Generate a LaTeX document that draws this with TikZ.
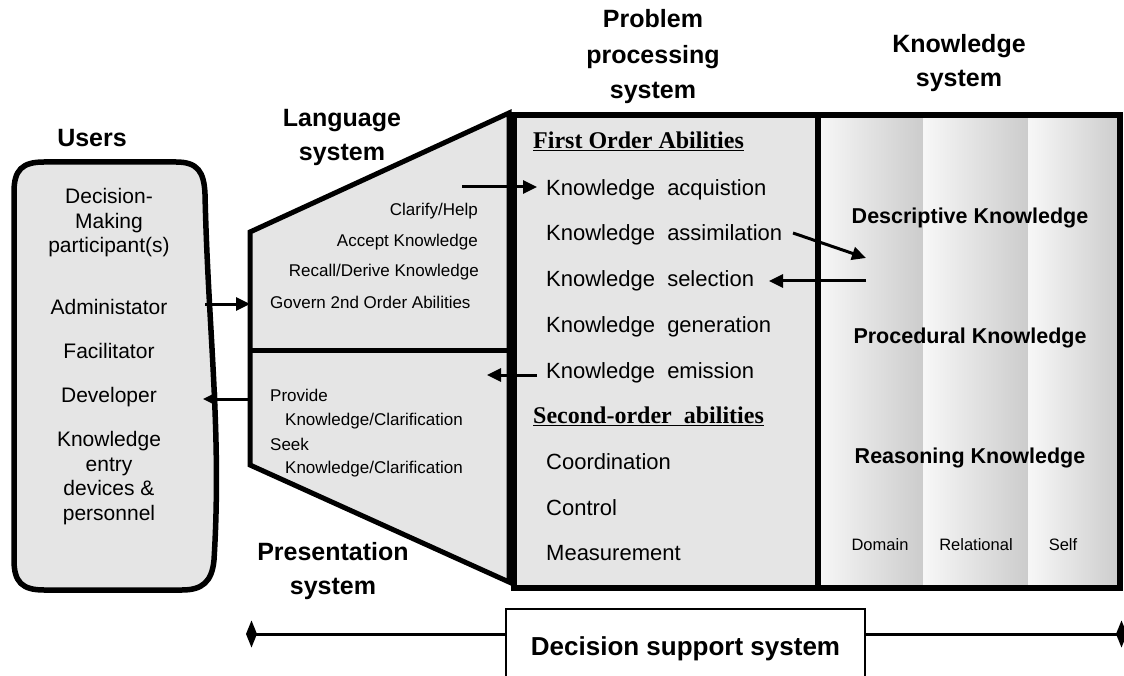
\documentclass[tikz,border=0pt]{standalone}
\usepackage{fontspec}
\setmainfont{Liberation Sans}
\newfontfamily\headserif{Liberation Serif}
\usetikzlibrary{arrows.meta}

\tikzset{
	syslabel/.style={font=\fontsize{25}{34}\selectfont\bfseries, align=center},
	useritem/.style={font=\fontsize{21}{24.5}\selectfont, align=center, inner sep=0pt},
	langitem/.style={font=\fontsize{17}{20}\selectfont, inner sep=0pt, text height=1.5ex, text depth=.3ex},
	ability/.style={font=\fontsize{22}{26}\selectfont, anchor=west, inner sep=0pt, text height=1.5ex, text depth=.3ex},
	abilityhead/.style={font=\headserif\fontsize{24}{28}\selectfont\bfseries, anchor=west, inner sep=0pt, text height=1.5ex, text depth=.3ex},
	kind/.style={font=\fontsize{21.5}{26}\selectfont\bfseries},
	bandname/.style={font=\fontsize{16.5}{20}\selectfont},
	band/.style={left color=gray!6, right color=gray!40},
	flow/.style={line width=3pt, -{Triangle[length=14pt,width=13pt]}},
}

\begin{document}
\begin{tikzpicture}[x=1pt, y=-1pt]
	\useasboundingbox (0,0) rectangle (1124,676);

	\filldraw [fill=gray!20, line width=5.5pt]
		(44,162) -- (176,162) .. controls (198,162) and (204,172) .. (205,194)
		.. controls (208,330) and (222,430) .. (214,560)
		.. controls (212,582) and (202,590) .. (182,590) -- (44,590)
		.. controls (22,590) and (14,582) .. (14,560) -- (14,192)
		.. controls (14,170) and (22,162) .. (44,162) -- cycle;
	\filldraw [fill=gray!20, line width=5pt, line join=miter]
		(250,232) -- (509,113) -- (509,582) -- (250,465) -- cycle;
	\draw [line width=5pt] (250,350) -- (509,350);

	\fill [gray!20] (514,115) rectangle (818,588);
	\shade [band] (818,115) rectangle (923,588);
	\shade [band] (923,115) rectangle (1028,588);
	\shade [band] (1028,115) rectangle (1120,588);
	\draw [line width=6pt] (514,115) rectangle (1120,588);
	\draw [line width=6pt] (818,115) -- (818,588);

	\node [syslabel] (users) at (92,138) {Users};
	\node [syslabel] (lang) at (342,137) {Language\\system};
	\node [syslabel] (pres) at (333,571) {Presentation\\system};
	\node [syslabel, font=\fontsize{25}{35.5}\selectfont\bfseries] (pps) at (653,57) {Problem\\processing\\system};
	\node [syslabel] (ks) at (959,63) {Knowledge\\system};

	\node [useritem] (dm) at (109,223) {Decision-\\Making\\participant(s)};
	\node [useritem] (admin) at (109,307) {Administator};
	\node [useritem] (facil) at (109,351) {Facilitator};
	\node [useritem] (dev) at (109,397) {Developer};
	\node [useritem] (entry) at (109,478) {Knowledge\\entry\\devices \&\\personnel};

	\node [langitem, anchor=east] (clarify) at (478,212) {Clarify/Help};
	\node [langitem, anchor=east] (accept) at (478,243) {Accept Knowledge};
	\node [langitem, anchor=east] (recall) at (479,273) {Recall/Derive Knowledge};
	\node [langitem, anchor=west] (govern) at (270,305) {Govern 2nd Order Abilities};
	\node [langitem, anchor=west] (provide) at (270,398) {Provide};
	\node [langitem, anchor=west] (provk) at (285,422) {Knowledge/Clarification};
	\node [langitem, anchor=west] (seek) at (270,447) {Seek};
	\node [langitem, anchor=west] (seekk) at (285,470) {Knowledge/Clarification};

	\node [abilityhead] (first) at (533,145) {\underline{First Order Abilities}};
	\node [ability] (acq) at (546,192) {Knowledge\ \ acquistion};
	\node [ability] (assim) at (546,237) {Knowledge\ \ assimilation};
	\node [ability] (sel) at (546,283) {Knowledge\ \ selection};
	\node [ability] (gen) at (546,329) {Knowledge\ \ generation};
	\node [ability] (emis) at (546,375) {Knowledge\ \ emission};
	\node [abilityhead] (second) at (533,420) {\underline{Second-order\ \ abilities}};
	\node [ability] (coord) at (546,466) {Coordination};
	\node [ability] (ctrl) at (546,512) {Control};
	\node [ability] (meas) at (546,557) {Measurement};

	\node [kind] (desc) at (970,218) {Descriptive Knowledge};
	\node [kind] (proc) at (970,338) {Procedural Knowledge};
	\node [kind] (reas) at (970,458) {Reasoning Knowledge};
	\node [bandname] (domain) at (880,545) {Domain};
	\node [bandname] (rel) at (976,545) {Relational};
	\node [bandname] (self) at (1063,545) {Self};

	\coordinate (adminout) at (205,304);
	\coordinate (langin) at (250,304);
	\coordinate (langout) at (462,187);
	\coordinate (presin) at (487,375);
	\coordinate (presout) at (250,399);
	\coordinate (devin) at (203,399);
	\coordinate (assimout) at (793,233);
	\coordinate (descin) at (866,258);
	\coordinate (descout) at (866,281);
	\coordinate (selin) at (769,281);

	\draw [flow] (adminout) -- (langin);
	\draw [flow] (langout) -- ([xshift=-9pt]acq.west |- langout);
	\draw [flow] ([xshift=-9pt]emis.west) -- (presin);
	\draw [flow] (presout) -- (devin);
	\draw [flow] (assimout) -- (descin);
	\draw [flow] (descout) -- (selin);

	\node [draw, fill=white, line width=1.2pt, minimum width=359pt, minimum height=80pt,
		font=\fontsize{26}{30}\selectfont\bfseries] (dss) at (685.5,649) {Decision support system};
	\coordinate (dssleft) at (246,634);
	\coordinate (dssright) at (1127,634);
	\draw [line width=3pt, -{Diamond[length=11pt,width=27pt]}] (dss.west |- dssleft) -- (dssleft);
	\draw [line width=3pt, -{Diamond[length=11pt,width=27pt]}] (dss.east |- dssright) -- (dssright);
\end{tikzpicture}
\end{document}
